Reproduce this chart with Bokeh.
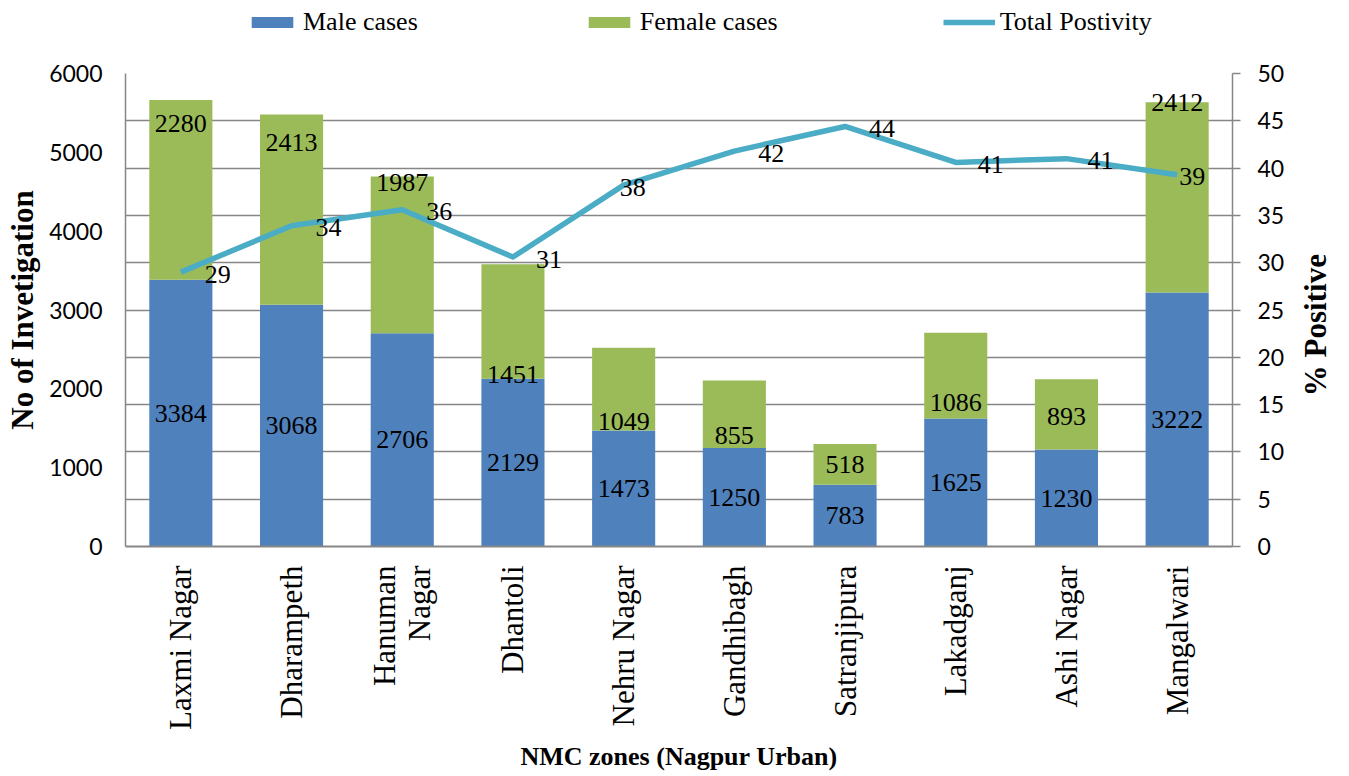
import math
from bokeh.plotting import figure
from bokeh.layouts import column, row
from bokeh.models import (Range1d, LinearAxis, FixedTicker, Legend,
                          LegendItem, ColumnDataSource, Label)
from bokeh.core.properties import value
from bokeh.embed import file_html
from bokeh.resources import INLINE

# ---------------- data ----------------
zones = ["Laxmi Nagar", "Dharampeth", "Hanuman Nagar", "Dhantoli", "Nehru Nagar",
         "Gandhibagh", "Satranjipura", "Lakadganj", "Ashi Nagar", "Mangalwari"]
male_cases = [3384, 3068, 2706, 2129, 1473, 1250, 783, 1625, 1230, 3222]
female_cases = [2280, 2413, 1987, 1451, 1049, 855, 518, 1086, 893, 2412]
total_positivity = [29.0, 33.9, 35.6, 30.6, 38.2, 41.8, 44.4, 40.6, 41.0, 39.3]
# how each zone name is wrapped on the axis
zone_label_lines = [["Laxmi Nagar"], ["Dharampeth"], ["Hanuman", "Nagar"], ["Dhantoli"],
                    ["Nehru Nagar"], ["Gandhibagh"], ["Satranjipura"], ["Lakadganj"],
                    ["Ashi Nagar"], ["Mangalwari"]]

left_ticks = [0, 1000, 2000, 3000, 4000, 5000, 6000]
right_ticks = [0, 5, 10, 15, 20, 25, 30, 35, 40, 45, 50]

# ---------------- label placement (style) ----------------
female_label_frac = [0.87, 0.85, 0.96, 0.035, 0.11, 0.19, 0.49, 0.18, 0.47, 1.0]
pct_label_dx = [24, 24, 24, 23, -4, 24, 24, 22, 21, 2]
LINE_GAP = 0.3125   # spacing of wrapped label lines, in category units
RIGHT_TITLE_AT = 23.4   # vertical centre of the right axis title, in % units

BLUE = "#4F81BD"
GREEN = "#9BBB59"
LINE = "#4BACC6"
AXIS = "#868686"
SERIF = "Liberation Serif"
SANS = "Lato"

n = len(zones)
xpos = [i + 0.5 for i in range(n)]
male_mid = [m / 2 for m in male_cases]
female_lab_y = [m + fr * f for m, f, fr in zip(male_cases, female_cases, female_label_frac)]

tick_pos, tick_txt = [], []
for x, lines in zip(xpos, zone_label_lines):
    k = len(lines)
    for j, t in enumerate(lines):
        tick_pos.append(x + (j - (k - 1) / 2) * LINE_GAP)
        tick_txt.append(t)

src = ColumnDataSource(dict(
    x=xpos, male=male_cases, female=female_cases, pct=total_positivity,
    male_mid=male_mid, female_y=female_lab_y,
    male_txt=[str(v) for v in male_cases],
    female_txt=[str(v) for v in female_cases],
    pct_txt=["%.0f" % v for v in total_positivity],
    pct_dx=pct_label_dx,
))

FW, FH = 1107, 473
TOP, LEFT, RIGHT = 28, 125, 65
p = figure(x_range=Range1d(0, n), y_range=Range1d(0, 6000),
           frame_width=FW, frame_height=FH,
           min_border_left=LEFT, min_border_right=RIGHT,
           min_border_top=TOP, min_border_bottom=225,
           output_backend="svg", toolbar_location=None)
p.extra_y_ranges = {"pct": Range1d(0, 50)}
p.outline_line_color = None

bars = p.vbar_stack(["male", "female"], x="x", width=0.57, source=src,
                    color=[BLUE, GREEN], line_color=None)

ln = p.line(x="x", y="pct", source=src, y_range_name="pct",
            line_color=LINE, line_width=5.5, line_join="round")

p.text(x="x", y="male_mid", text="male_txt", source=src,
       text_align="center", text_baseline="middle",
       text_font=value(SERIF), text_font_size="26px", text_color="black")
p.text(x="x", y="female_y", text="female_txt", source=src,
       text_align="center", text_baseline="middle",
       text_font=value(SERIF), text_font_size="26px", text_color="black")
p.text(x="x", y="pct", text="pct_txt", source=src, y_range_name="pct",
       x_offset="pct_dx", y_offset=2,
       text_align="left", text_baseline="middle",
       text_font=value(SERIF), text_font_size="26px", text_color="black")

p.xgrid.visible = False
p.ygrid.y_range_name = "pct"
p.ygrid.ticker = FixedTicker(ticks=right_ticks)
p.ygrid.grid_line_color = AXIS
p.ygrid.grid_line_width = 1.5

ya = p.yaxis[0]
ya.ticker = FixedTicker(ticks=left_ticks)
ya.axis_label = "No of Invetigation"
ya.axis_label_text_font = SERIF
ya.axis_label_text_font_style = "bold"
ya.axis_label_text_font_size = "31px"
ya.axis_label_text_color = "black"
ya.axis_label_standoff = 6
ya.major_label_text_font = SANS
ya.major_label_text_font_size = "23px"
ya.major_label_text_color = "black"
ya.major_label_standoff = 23
ya.major_tick_out = 0
ya.major_tick_in = 0
ya.minor_tick_out = 0
ya.minor_tick_in = 0
ya.axis_line_color = AXIS
ya.axis_line_width = 1.5

ra = LinearAxis(y_range_name="pct", ticker=FixedTicker(ticks=right_ticks))
ra.major_label_text_font = SANS
ra.major_label_text_font_size = "23px"
ra.major_label_text_color = "black"
ra.major_label_standoff = 17
ra.major_tick_out = 8
ra.major_tick_in = 0
ra.minor_tick_out = 0
ra.minor_tick_in = 0
ra.major_tick_line_color = AXIS
ra.major_tick_line_width = 1.5
ra.axis_line_color = AXIS
ra.axis_line_width = 1.5
p.add_layout(ra, "right")

xa = p.xaxis[0]
xa.ticker = FixedTicker(ticks=tick_pos)
xa.major_label_overrides = {pos: t for pos, t in zip(tick_pos, tick_txt)}
xa.axis_label = "NMC zones (Nagpur Urban)"
xa.axis_label_text_font = SERIF
xa.axis_label_text_font_style = "bold"
xa.axis_label_text_font_size = "26px"
xa.axis_label_text_color = "black"
xa.axis_label_standoff = 9
xa.major_label_text_font = SERIF
xa.major_label_text_font_size = "31px"
xa.major_label_text_color = "black"
xa.major_label_orientation = math.pi / 2
xa.major_label_standoff = 19
xa.major_tick_out = 0
xa.major_tick_in = 0
xa.minor_tick_out = 0
xa.minor_tick_in = 0
xa.axis_line_color = AXIS
xa.axis_line_width = 2

# ---------------- right axis title strip (reads bottom-to-top) ----------------
RT_W = 36
rt = figure(frame_width=RT_W, frame_height=FH, x_range=Range1d(0, 1),
            y_range=Range1d(0, 50), min_border_left=0, min_border_right=0,
            min_border_top=TOP, min_border_bottom=0,
            output_backend="svg", toolbar_location=None,
            x_axis_type=None, y_axis_type=None)
rt.outline_line_color = None
rt.grid.visible = False
rt.add_layout(Label(x=0.5, y=RIGHT_TITLE_AT, text="% Positive", angle=math.pi / 2,
                    text_align="center", text_baseline="middle",
                    text_font=SERIF, text_font_style="bold",
                    text_font_size="31px", text_color="black"))

# ---------------- legend strip above the chart ----------------
TOTAL_W = LEFT + FW + RIGHT + RT_W
lg = figure(width=TOTAL_W, height=45, x_range=Range1d(0, 1), y_range=Range1d(0, 1),
            min_border=0, output_backend="svg", toolbar_location=None,
            x_axis_type=None, y_axis_type=None)
lg.outline_line_color = None
lg.grid.visible = False
# legend proxies (kept outside the visible range of this strip)
proxy = ColumnDataSource(dict(x=[-5], y=[-5]))
r_m = lg.vbar(x="x", top="y", width=0.1, source=proxy, color=BLUE, line_color=None)
r_f = lg.vbar(x="x", top="y", width=0.1, source=proxy, color=GREEN, line_color=None)
r_l = lg.line(x="x", y="y", source=proxy, line_color=LINE, line_width=5.5)
legend = Legend(items=[LegendItem(label="Male cases", renderers=[r_m]),
                       LegendItem(label="Female cases", renderers=[r_f]),
                       LegendItem(label="Total Postivity", renderers=[r_l])],
                orientation="horizontal", location=(246, 8),
                spacing=165, glyph_width=52, glyph_height=14, label_standoff=5,
                padding=0, margin=0, border_line_color=None,
                background_fill_alpha=0,
                label_text_font=SERIF, label_text_font_size="26px",
                label_text_color="black")
lg.add_layout(legend)

layout = column(lg, row(p, rt, spacing=0), spacing=0)
open("out.html", "w").write(file_html(layout, INLINE))
